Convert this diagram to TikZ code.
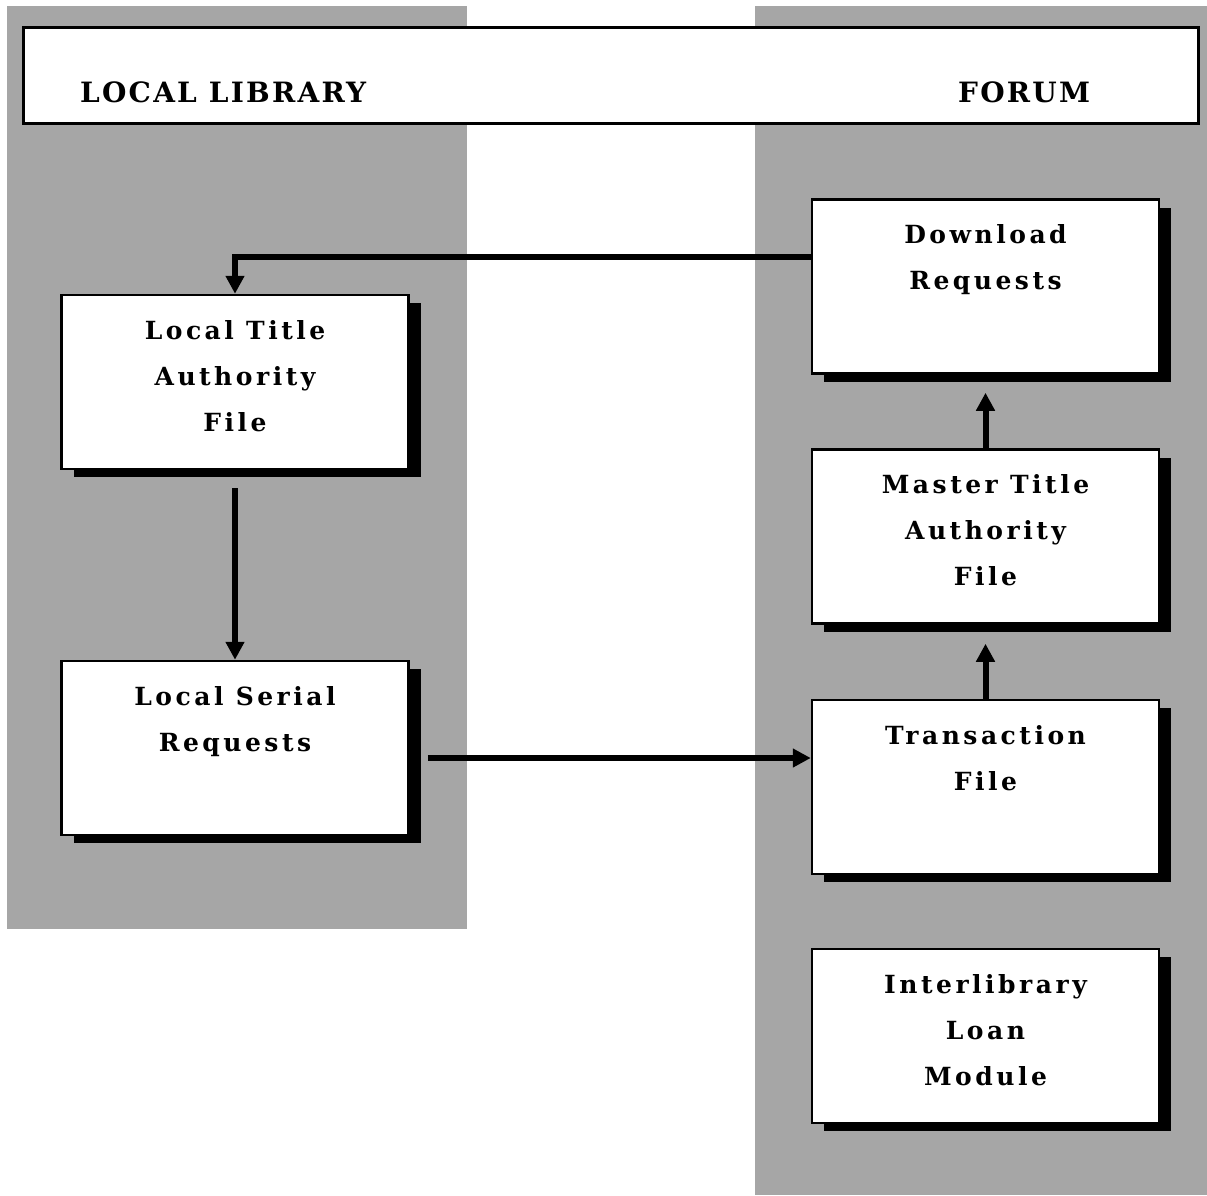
\documentclass[tikz,border=0pt]{standalone}
\usepackage{fontspec}
\setmainfont{DejaVu Serif}
\newfontfamily\boxfont[LetterSpace=14]{DejaVu Serif}
\newfontfamily\headfont[LetterSpace=8]{DejaVu Serif}
\usetikzlibrary{arrows.meta,shadows}

\definecolor{panelgray}{HTML}{A6A6A6}

\tikzset{
  filebox/.style={draw, line width=2.5pt, fill=white, inner sep=0pt,
    drop shadow={shadow xshift=12pt, shadow yshift=-8pt, fill=black, opacity=1}},
  flow/.style={line width=6pt, -{Triangle[length=18pt,width=18pt]}},
  headtext/.style={anchor=base west, inner sep=0pt, font=\headfont\bfseries\fontsize{28}{32}\selectfont}
}

\newcommand{\filetext}[1]{\parbox[c][174pt][t]{347pt}{\centering\boxfont\bfseries\fontsize{25}{46}\selectfont\rule{0pt}{44pt}#1}}

\begin{document}
\begin{tikzpicture}[x=1pt, y=-1pt]
\useasboundingbox (0,0) rectangle (1207,1195);

% Grey panels
\fill[panelgray] (7,6) rectangle (467,929);
\fill[panelgray] (755,6) rectangle (1207,1195);

% Header bar
\node[draw, line width=3pt, fill=white, minimum width=1175pt, minimum height=96pt, inner sep=0pt] (header) at (610.5,75) {};
\node[headtext] (library) at (80,102) {LOCAL LIBRARY};
\node[headtext] (forum) at (958,102) {FORUM};

% Local library files
\node[filebox] (ltaf) at (235,382) {\filetext{Local Title\\Authority\\File}};
\node[filebox] (lsr) at (235,748) {\filetext{Local Serial\\Requests}};

% Forum files
\node[filebox] (dl) at (985.5,286.5) {\filetext{Download\\Requests}};
\node[filebox] (mtaf) at (985.5,536.5) {\filetext{Master Title\\Authority\\File}};
\node[filebox] (tf) at (985.5,787) {\filetext{Transaction\\File}};
\node[filebox] (ill) at (985.5,1036) {\filetext{Interlibrary\\Loan\\Module}};

% Flows
\draw[flow] ([yshift=29.5pt]dl.west) -| (ltaf.north);
\draw[flow] ([yshift=-18pt]ltaf.south) -- (lsr.north);
\draw[flow] ([xshift=18pt,yshift=-10pt]lsr.east) coordinate (lsout) -- (lsout -| tf.west);
\draw[flow] (tf.north) -- ([yshift=-19pt]mtaf.south);
\draw[flow] (mtaf.north) -- ([yshift=-18pt]dl.south);

\end{tikzpicture}
\end{document}
